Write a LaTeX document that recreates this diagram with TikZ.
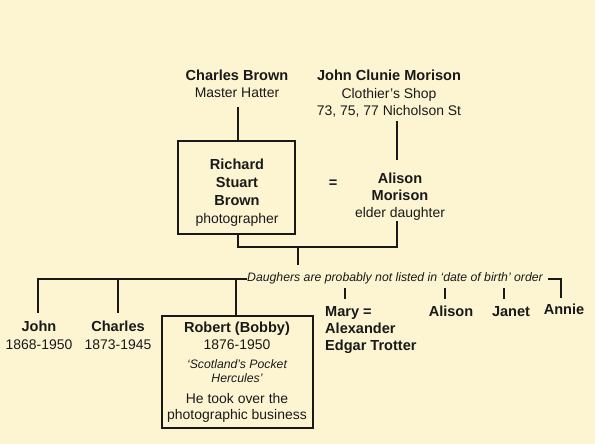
\documentclass[tikz,border=0pt]{standalone}
\usepackage{fontspec}
\setmainfont{Liberation Sans}
\definecolor{bg}{RGB}{253,245,210}
\definecolor{ln}{RGB}{25,25,25}
\newcommand\bnm[1]{{\fontsize{14.6}{18}\selectfont\bfseries #1}}
\begin{document}
\begin{tikzpicture}[x=1bp,y=-1bp,
  every node/.style={inner sep=0pt, text=ln},
  txt/.style={font=\fontsize{14}{18}\selectfont, align=center, anchor=base},
  ital/.style={font=\fontsize{12.3}{14}\selectfont\itshape, align=center, anchor=base},
  boxed/.style={draw=ln, line width=1.8bp, rectangle},
  conn/.style={draw=ln, line width=1.8bp}
]
\path[fill=bg] (0,0) rectangle (595,444);

% top generation (base anchor = last line's baseline)
\node[txt] (cb) at (237,98) {\bnm{Charles Brown}\\Master Hatter};
\node[txt] (jcm) at (389,116) {\bnm{John Clunie Morison}\\Clothier's Shop\\73, 75, 77 Nicholson St};

% couple
\node[boxed, minimum width=117bp, minimum height=93bp] (rsb) at (236.5,187.5) {};
\node[txt] (rsbt) at (237,223.5) {\bnm{Richard}\\\bnm{Stuart}\\\bnm{Brown}\\photographer};
\node[font=\fontsize{14.6}{18}\selectfont\bfseries] (eq) at (333,184) {=};
\node[txt, font=\fontsize{14}{17.5}\selectfont] (am) at (400,218) {\bnm{Alison}\\\bnm{Morison}\\elder daughter};

% children
\node[txt] (john) at (39,349) {\bnm{John}\\1868-1950};
\node[txt] (charles) at (118,349) {\bnm{Charles}\\1873-1945};
\node[boxed, minimum width=151bp, minimum height=112bp] (rob) at (237.5,372) {};
\node[txt, font=\fontsize{14}{17}\selectfont] (robt1) at (237,349) {\bnm{Robert (Bobby)}\\1876-1950};
\node[ital] (robt2) at (237,382) {‘Scotland's Pocket\\Hercules’};
\node[txt, font=\fontsize{14}{16}\selectfont] (robt3) at (237,419) {He took over the\\photographic business};

\node[ital, anchor=base west] (dtext) at (247,282) {Daughers are probably not listed in ‘date of birth’ order};

\node[txt, align=left, anchor=base west, font=\fontsize{14.6}{17}\selectfont\bfseries] (mary) at (325,350) {Mary =\\Alexander\\Edgar Trotter};
\node[txt, font=\fontsize{14.6}{17}\selectfont\bfseries] (alison) at (451,316) {Alison};
\node[txt, font=\fontsize{14.6}{17}\selectfont\bfseries] (janet) at (511,316) {Janet};
\node[txt, font=\fontsize{14.6}{17}\selectfont\bfseries] (annie) at (564,314) {Annie};

% junction coordinates
\coordinate (cbB) at (238,107);
\coordinate (jcmB) at (397,121);
\coordinate (amT) at (397,160);
\coordinate (amB) at (397,221);
\coordinate (mid) at (298,247);
\coordinate (midE) at (298,265);
\coordinate (johnB) at (38,313);
\coordinate (chT) at (118,279);
\coordinate (chB) at (118,313);
\coordinate (robT) at (236,279);
\coordinate (maryT) at (345,288);
\coordinate (maryB) at (345,299);
\coordinate (alT) at (445,288);
\coordinate (alB) at (445,299);
\coordinate (jaT) at (504,288);
\coordinate (jaB) at (504,299);
\coordinate (anS) at (548,279);
\coordinate (anB) at (561,298);

% connectors
\draw[conn] (cbB) -- (cbB |- rsb.north);
\draw[conn] (jcmB) -- (amT);
\draw[conn] (cbB |- rsb.south) |- (mid) -| (amB);
\draw[conn] (mid) -- (midE);
\draw[conn] (dtext.west) -| (johnB);
\draw[conn] (chT) -- (chB);
\draw[conn] (robT) -- (robT |- rob.north);
\draw[conn] (maryT) -- (maryB);
\draw[conn] (alT) -- (alB);
\draw[conn] (jaT) -- (jaB);
\draw[conn] (anS) -| (anB);
\end{tikzpicture}
\end{document}
